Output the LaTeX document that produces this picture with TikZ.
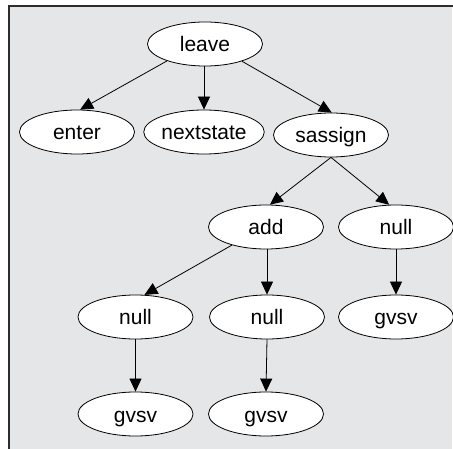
\documentclass[tikz,border=0pt]{standalone}
\usepackage{fontspec}
\setmainfont{Liberation Sans}
\usetikzlibrary{arrows.meta,shapes.geometric}
\definecolor{panel}{RGB}{229,230,231}
\definecolor{framec}{RGB}{45,45,45}
\begin{document}
\begin{tikzpicture}[x=1pt,y=-1pt,
  op/.style={ellipse,draw=black,fill=white,line width=0.8pt,
    minimum width=115pt,minimum height=44pt,inner sep=0pt,
    text height=16pt,text depth=0pt,font=\fontsize{21}{25}\selectfont},
  link/.style={line width=0.8pt,-{Triangle[length=13pt,width=12pt]}}]
\useasboundingbox (0,0) rectangle (453,449);
% panel with its top and left rules
\fill[panel] (9,6) rectangle (452,449);
\draw[framec,line width=1.5pt] (9,449) -- (9,6) -- (453,6);

% op tree
\node[op] (leave)     at (205,44)   {leave};
\node[op] (enter)     at (77,132)   {enter};
\node[op] (nextstate) at (204,132)  {nextstate};
\node[op] (sassign)   at (331,135)  {sassign};
\node[op] (add)       at (266,227)  {add};
\node[op] (nullr)     at (396,227)  {null};
\node[op] (nulll)     at (135.5,317){null};
\node[op] (nullm)     at (267,317)  {null};
\node[op] (gvsvr)     at (396,317)  {gvsv};
\node[op] (gvsvl)     at (135.5,414){gvsv};
\node[op] (gvsvm)     at (266,414)  {gvsv};

% edges
\draw[link] (leave.204) -- (enter.82);
\draw[link] (leave.south -| nextstate.north) -- (nextstate.north);
\draw[link] (leave.335) -- (sassign.88);
\draw[link] (sassign.south) -- (add.80);
\draw[link] (sassign.south) -- (nullr.107);
\draw[link] (add.208) -- (nulll.68);
\draw[link] (add.south -| nullm.north) -- (nullm.north);
\draw[link] (nullr.south) -- (gvsvr.north);
\draw[link] (nulll.south) -- (gvsvl.north);
\draw[link] (nullm.south) -- (gvsvm.north);
\end{tikzpicture}
\end{document}
